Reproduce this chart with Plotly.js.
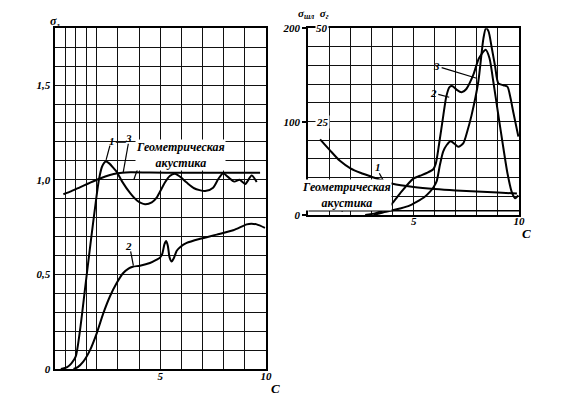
<!DOCTYPE html>
<html>
<head>
<meta charset="utf-8">
<script src="https://cdn.plot.ly/plotly-3.0.1.min.js"></script>
<style>html,body{margin:0;padding:0;background:#fff;}#chart{width:580px;height:403px;}</style>
</head>
<body>
<div id="chart"></div>
<script>
// ---------- Left panel data ----------
const leftC1X = [0.3, 0.6, 0.8, 1.0, 1.2, 1.45, 1.7, 1.95, 2.1, 2.25, 2.43, 2.6, 2.8, 2.95, 3.2, 3.57, 3.9, 4.28, 4.6, 4.83, 5.05, 5.22, 5.45, 5.7, 5.95, 6.25, 6.6, 7.12, 7.5, 7.75, 7.98, 8.2, 8.5, 8.75, 9.02, 9.32, 9.56];
const leftC1Y = [0, 0.01, 0.03, 0.065, 0.2, 0.43, 0.66, 0.88, 1.0, 1.07, 1.096, 1.085, 1.06, 1.04, 0.99, 0.93, 0.89, 0.87, 0.88, 0.905, 0.95, 0.985, 1.02, 1.032, 1.015, 0.985, 0.955, 0.94, 0.958, 1.005, 1.034, 1.015, 0.99, 1.0, 0.978, 1.022, 0.988];

const leftC3X = [0.42, 0.8, 1.2, 1.6, 2.0, 2.4, 2.8, 3.2, 3.6, 4.5, 6.0, 8.0, 9.72];
const leftC3Y = [0.923, 0.94, 0.96, 0.98, 1.0, 1.017, 1.03, 1.037, 1.039, 1.038, 1.037, 1.037, 1.037];

const leftC2X = [0.9, 1.1, 1.36, 1.68, 2.0, 2.31, 2.62, 2.94, 3.25, 3.5, 3.7, 4.04, 4.51, 4.83, 5.0, 5.1, 5.2, 5.28, 5.36, 5.44, 5.54, 5.64, 5.78, 5.95, 6.25, 6.88, 7.67, 8.45, 9.09, 9.3, 9.56, 9.95];
const leftC2Y = [0, 0.01, 0.039, 0.10, 0.19, 0.295, 0.383, 0.454, 0.507, 0.53, 0.54, 0.546, 0.56, 0.578, 0.59, 0.61, 0.66, 0.676, 0.65, 0.59, 0.568, 0.585, 0.625, 0.645, 0.666, 0.688, 0.71, 0.733, 0.764, 0.768, 0.764, 0.746];

// ---------- Right panel data ----------
const rightC1X = [0.56, 1.0, 1.5, 2.0, 2.5, 3.0, 3.5, 4.0, 5.0, 6.0, 7.0, 8.0, 9.0, 9.9];
const rightC1Y = [81, 70, 58, 50, 45, 41, 37, 33.5, 30, 27.8, 26.3, 25.2, 24, 23];

const rightGeoX = [0, 10];
const rightGeoY = [4.6, 4.6];

const rightC2X = [2.7, 3.2, 3.72, 4.0, 4.35, 4.98, 5.3, 5.62, 5.93, 6.05, 6.2, 6.41, 6.55, 6.7, 6.85, 7.05, 7.28, 7.5, 7.83, 8.1, 8.42, 8.6, 8.78, 9.0, 9.26, 9.45, 9.65, 9.81, 9.97];
const rightC2Y = [0, 2, 7, 13, 23, 39, 42, 45, 49, 55, 75, 107, 127, 137, 138, 134, 131.5, 135, 150, 168, 177, 168, 143, 110, 71.5, 45, 25, 18, 21];

const rightC3X = [3.1, 3.5, 4.0, 4.35, 4.8, 5.14, 5.5, 5.78, 5.95, 6.09, 6.25, 6.4, 6.57, 6.76, 6.95, 7.12, 7.36, 7.55, 7.75, 8.07, 8.31, 8.43, 8.55, 8.7, 8.86, 9.02, 9.26, 9.45, 9.6, 9.73, 9.97];
const rightC3Y = [0, 2.5, 5, 7, 10, 14, 19, 25, 30, 36, 54, 68, 75, 79, 76, 73, 77, 90, 107, 143, 189, 200, 197, 180, 160, 141, 139, 137.5, 125, 110, 84];

// ---------- Ticks / grid ----------
const leftXTickVals = [5, 10];
const leftXTickText = ['5', '10'];
const leftXGridVals = [0, 0.5, 1, 1.5, 2, 3, 4, 6, 7, 8, 9];
const leftYTickVals = [0, 0.5, 1.0, 1.5];
const leftYTickText = ['0', '0,5', '1,0', '1,5'];
const leftYGridVals = [0.1, 0.2, 0.3, 0.4, 0.6, 0.7, 0.8, 0.9, 1.1, 1.2, 1.3, 1.4, 1.6, 1.7, 1.8];
const rightXTickVals = [5, 10];
const rightXTickText = ['5', '10'];
const rightXGridVals = [0, 1, 2, 3, 4, 6, 7, 8, 9];
const rightYTickVals = [0, 100, 200];
const rightYTickText = ['0', '100', '200'];
const rightYGridVals = [20, 40, 60, 80, 120, 140, 160, 180];
const rightInnerVals = [100, 200];
const rightInnerText = ['25', '50'];

const FONT = 'Liberation Serif, Times New Roman, serif';
const tf = {family: FONT, size: 11, color: '#000', weight: 'bold', style: 'italic'};
const txt = {family: FONT, size: 12, color: '#000', weight: 'bold', style: 'italic'};
const lineStyle = {color: '#000', width: 2, shape: 'spline', smoothing: 0.7};

const traces = [
  {x: leftC1X, y: leftC1Y, xaxis: 'x', yaxis: 'y', mode: 'lines', line: lineStyle, hoverinfo: 'skip'},
  {x: leftC3X, y: leftC3Y, xaxis: 'x', yaxis: 'y', mode: 'lines', line: lineStyle, hoverinfo: 'skip'},
  {x: leftC2X, y: leftC2Y, xaxis: 'x', yaxis: 'y', mode: 'lines', line: lineStyle, hoverinfo: 'skip'},
  {x: rightC1X, y: rightC1Y, xaxis: 'x2', yaxis: 'y2', mode: 'lines', line: lineStyle, hoverinfo: 'skip'},
  {x: rightGeoX, y: rightGeoY, xaxis: 'x2', yaxis: 'y2', mode: 'lines', line: {color: '#000', width: 1.5}, hoverinfo: 'skip'},
  {x: rightC2X, y: rightC2Y, xaxis: 'x2', yaxis: 'y2', mode: 'lines', line: lineStyle, hoverinfo: 'skip'},
  {x: rightC3X, y: rightC3Y, xaxis: 'x2', yaxis: 'y2', mode: 'lines', line: lineStyle, hoverinfo: 'skip'}
];

const gridC = '#111';
const axisCommon = {
  showline: true, mirror: true, linecolor: '#000', linewidth: 2,
  showgrid: true, gridcolor: gridC, gridwidth: 1, zeroline: false,
  tickmode: 'array', ticks: '', tickfont: tf, fixedrange: true
};
function minorGrid(vals) {
  return {tickmode: 'array', tickvals: vals, showgrid: true, gridcolor: gridC, gridwidth: 1, ticks: ''};
}

const ann = [];
function lab(text, x, y, xref, yref, opts) {
  ann.push(Object.assign({text: text, x: x, y: y, xref: xref, yref: yref, showarrow: false, font: txt,
    xanchor: 'center', yanchor: 'middle', borderpad: 0}, opts || {}));
}
const small = Object.assign({}, tf, {size: 11});
// left panel labels
lab('1', 2.72, 1.205, 'x', 'y', {font: small});
lab('—', 3.1, 1.203, 'x', 'y', {font: Object.assign({}, tf, {size: 10})});
lab('3', 3.5, 1.222, 'x', 'y', {font: small});
lab('Геометрическая<br>акустика', 5.94, 1.129, 'x', 'y', {bgcolor: '#fff'});
lab('2', 3.49, 0.648, 'x', 'y', {font: small});
lab('σ<sub>г</sub>', 0.094, 0.946, 'paper', 'paper', {font: Object.assign({}, tf, {size: 12})});
lab('C', 0.4745, 0.037, 'paper', 'paper', {font: Object.assign({}, tf, {size: 13})});
// right panel labels
lab('1', 3.32, 51.7, 'x2', 'y2', {font: small});
lab('Геометрическая<br>акустика', 1.79, 21.4, 'x2', 'y2', {bgcolor: '#fff'});
lab('2', 5.93, 131, 'x2', 'y2', {font: small});
lab('3', 6.09, 159.6, 'x2', 'y2', {font: small});
for (let i = 0; i < rightInnerVals.length; i++) {
  lab(rightInnerText[i], 0.66, rightInnerVals[i], 'x2', 'y2', {bgcolor: '#fff', font: tf});
}
lab('σ<sub>шл</sub>  σ<sub>г</sub>', 0.541, 0.965, 'paper', 'paper', {font: small});
lab('C', 0.907, 0.421, 'paper', 'paper', {font: Object.assign({}, tf, {size: 13})});

function ptr(x0, y0, x1, y1, xr, yr) {
  return {type: 'line', xref: xr, yref: yr, x0: x0, y0: y0, x1: x1, y1: y1, line: {color: '#000', width: 1.2}, layer: 'above'};
}
const shapes = [
  ptr(2.62, 1.18, 2.44, 1.105, 'x', 'y'),
  ptr(3.49, 1.19, 3.25, 1.04, 'x', 'y'),
  ptr(3.97, 1.07, 3.75, 1.0, 'x', 'y'),
  ptr(3.6, 0.622, 3.73, 0.546, 'x', 'y'),
  ptr(3.37, 44.7, 3.56, 36.8, 'x2', 'y2'),
  ptr(1.82, 10.7, 1.59, 3.5, 'x2', 'y2'),
  ptr(6.17, 129.3, 6.69, 126.1, 'x2', 'y2'),
  ptr(6.33, 157.8, 7.99, 146.5, 'x2', 'y2')
];

const layout = {
  width: 580, height: 403,
  margin: {l: 0, r: 0, t: 0, b: 0},
  paper_bgcolor: '#fff', plot_bgcolor: '#fff',
  showlegend: false,
  xaxis: Object.assign({}, axisCommon, {domain: [0.09397, 0.45862], range: [0, 10], anchor: 'y',
    tickvals: leftXTickVals, ticktext: leftXTickText, ticklabelstandoff: -4, minor: minorGrid(leftXGridVals)}),
  yaxis: Object.assign({}, axisCommon, {domain: [0.08437, 0.92978], range: [0, 1.8], anchor: 'x',
    tickvals: leftYTickVals, ticktext: leftYTickText, minor: minorGrid(leftYGridVals)}),
  xaxis2: Object.assign({}, axisCommon, {domain: [0.53155, 0.89483], range: [0, 10], anchor: 'y2',
    tickvals: rightXTickVals, ticktext: rightXTickText, ticklabelstandoff: -5, minor: minorGrid(rightXGridVals)}),
  yaxis2: Object.assign({}, axisCommon, {domain: [0.4665, 0.92978], range: [0, 200], anchor: 'x2',
    tickvals: rightYTickVals, ticktext: rightYTickText, ticks: 'outside', ticklen: 4, tickwidth: 1.5, tickcolor: '#000',
    minor: minorGrid(rightYGridVals)}),
  annotations: ann,
  shapes: shapes
};

Plotly.newPlot('chart', traces, layout, {displayModeBar: false});
</script>
</body>
</html>
